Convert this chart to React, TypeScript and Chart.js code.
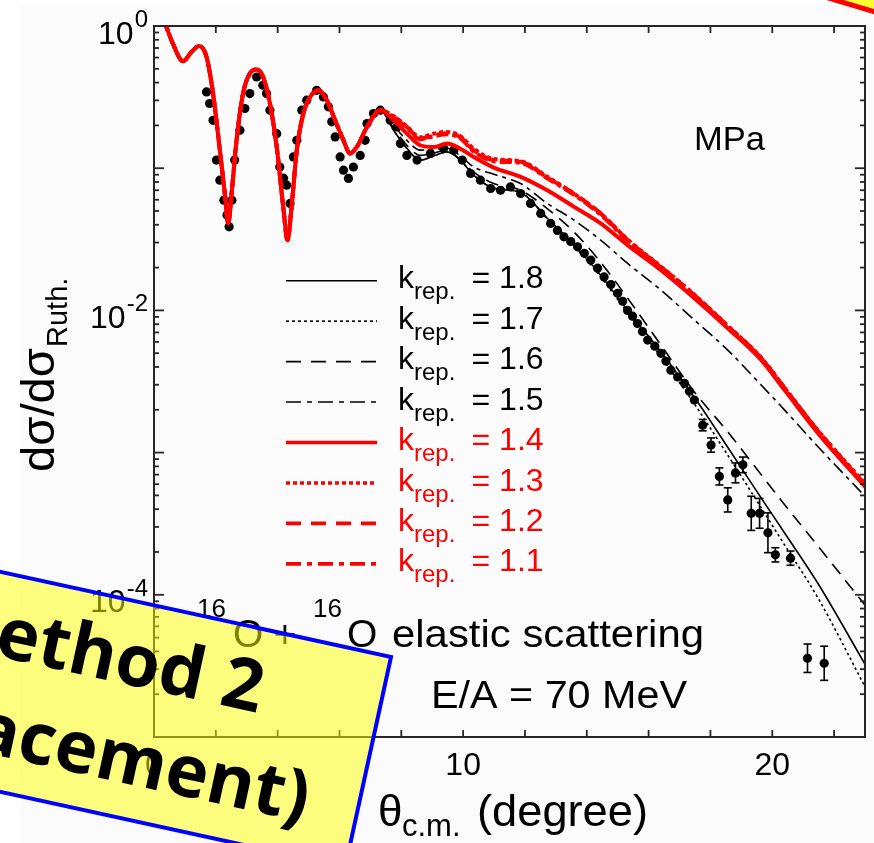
import React, { useEffect, useRef } from "react";
import { Chart, registerables } from "chart.js";

Chart.register(...registerables);

// ---------------- data ----------------
// forward-angle diffraction part, shared by all k_rep curves
const oscTheta = [0.3, 0.4, 0.61, 0.94, 1.21, 1.46, 1.7, 1.91, 2.13, 2.29, 2.4, 2.51, 2.67, 2.88, 3.1, 3.32, 3.53, 3.75, 3.97, 4.18, 4.32, 4.45, 4.62, 4.83, 5.05, 5.32, 5.59, 5.86, 6.13, 6.34, 6.56, 6.89, 7.32];
const oscRatio = [1.1, 0.984, 0.752, 0.565, 0.656, 0.723, 0.605, 0.335, 0.134, 0.0664, 0.0409, 0.0664, 0.157, 0.335, 0.463, 0.494, 0.438, 0.285, 0.141, 0.0535, 0.0312, 0.0535, 0.134, 0.242, 0.317, 0.353, 0.301, 0.217, 0.157, 0.127, 0.141, 0.195, 0.256];

// larger angles, where the k_rep curves separate
const tailTheta = [7.75, 8.18, 8.61, 9.05, 9.48, 9.91, 10.34, 10.99, 11.86, 12.72, 13.59, 14.45, 15.32, 16.4, 17.48, 18.56, 19.64, 20.4, 21.48, 23.05];
const k18Tail = [0.185, 0.138, 0.114, 0.122, 0.13, 0.114, 0.0893, 0.0724, 0.0676, 0.0445, 0.0288, 0.0177, 0.01, 0.0051, 0.00245, 0.00109, 4.8e-4, 2.72e-4, 1.2e-4, 3.11e-5];
const k17Tail = [0.185, 0.138, 0.114, 0.122, 0.13, 0.114, 0.0893, 0.0724, 0.0676, 0.044, 0.0284, 0.0172, 0.0096, 0.0047, 0.0022, 9.6e-4, 4.1e-4, 2.24e-4, 9.5e-5, 2.15e-5];
const k16Tail = [0.191, 0.145, 0.123, 0.128, 0.134, 0.114, 0.094, 0.078, 0.07, 0.052, 0.0355, 0.0218, 0.0122, 0.0057, 0.00267, 0.0014, 7.0e-4, 4.3e-4, 2.2e-4, 8.2e-5];
const k15Tail = [0.2, 0.157, 0.134, 0.136, 0.138, 0.122, 0.102, 0.0906, 0.078, 0.0565, 0.0431, 0.0312, 0.0214, 0.0139, 0.00855, 0.00526, 0.00299, 0.00199, 0.0011, 4.8e-4];
const k14Tail = [0.217, 0.175, 0.145, 0.141, 0.149, 0.137, 0.12, 0.101, 0.087, 0.07, 0.0535, 0.0409, 0.0288, 0.0192, 0.0122, 0.0075, 0.00448, 0.00275, 0.00137, 5.6e-4];
const k13Tail = [0.232, 0.197, 0.165, 0.175, 0.18, 0.168, 0.137, 0.116, 0.112, 0.087, 0.066, 0.048, 0.0315, 0.0203, 0.0129, 0.0078, 0.00465, 0.00285, 0.00143, 5.9e-4];
const k12Tail = [0.23, 0.195, 0.162, 0.17, 0.176, 0.165, 0.134, 0.114, 0.111, 0.086, 0.066, 0.048, 0.0312, 0.0202, 0.0128, 0.00776, 0.00462, 0.00284, 0.00142, 5.8e-4];
const k11Tail = [0.228, 0.192, 0.16, 0.168, 0.173, 0.162, 0.131, 0.112, 0.109, 0.085, 0.065, 0.047, 0.031, 0.02, 0.0127, 0.0077, 0.0046, 0.00282, 0.00141, 5.7e-4];

const kLabels = ["1.8", "1.7", "1.6", "1.5", "1.4", "1.3", "1.2", "1.1"];

// experimental points (theta, ratio, error half-width in decades)
const expTheta = [1.7, 1.8, 1.91, 2.02, 2.13, 2.26, 2.36, 2.43, 2.52, 2.61, 2.78, 2.94, 3.1, 3.32, 3.52, 3.64, 3.75, 3.97, 4.07, 4.19, 4.29, 4.4, 4.51, 4.62, 4.78, 4.94, 5.26, 5.48, 5.64, 5.75, 5.86, 6.02, 6.13, 6.29, 6.45, 6.67, 6.83, 6.89, 7.1, 7.32, 7.64, 7.86, 7.97, 8.18, 8.51, 8.94, 9.37, 9.7, 9.97, 10.24, 10.56, 10.89, 11.21, 11.53, 11.86, 12.18, 12.51, 12.83, 13.05, 13.26, 13.48, 13.7, 13.92, 14.13, 14.35, 14.56, 14.78, 15.0, 15.16, 15.32, 15.48, 15.64, 15.8, 15.97, 16.2, 16.4, 16.56, 16.72, 16.94, 17.16, 17.32, 17.48, 17.75, 18.02, 18.29, 18.56, 18.81, 19.05, 19.32, 19.59, 19.86, 20.1, 20.59, 21.14, 21.68];
const expRatio = [0.344, 0.285, 0.217, 0.114, 0.0824, 0.0596, 0.0468, 0.0387, 0.0596, 0.114, 0.185, 0.263, 0.335, 0.438, 0.383, 0.335, 0.256, 0.175, 0.102, 0.0851, 0.076, 0.0565, 0.12, 0.157, 0.256, 0.301, 0.353, 0.317, 0.27, 0.212, 0.166, 0.12, 0.0968, 0.0847, 0.102, 0.123, 0.157, 0.206, 0.242, 0.256, 0.217, 0.195, 0.149, 0.123, 0.114, 0.127, 0.138, 0.134, 0.114, 0.0918, 0.0824, 0.072, 0.07, 0.0739, 0.0664, 0.0565, 0.0481, 0.0409, 0.0365, 0.0329, 0.0305, 0.028, 0.0252, 0.0226, 0.0198, 0.0172, 0.0152, 0.0132, 0.0116, 0.01, 0.0091, 0.00809, 0.0071, 0.00618, 0.0056, 0.00499, 0.0044, 0.0038, 0.0034, 0.00307, 0.0027, 0.00234, 0.00156, 0.00113, 6.8e-4, 4.65e-4, 7.2e-4, 8.2e-4, 3.74e-4, 3.74e-4, 2.73e-4, 1.91e-4, 1.81e-4, 3.58e-5, 3.3e-5];
const expErrDec = [0, 0, 0, 0, 0, 0, 0, 0, 0, 0, 0, 0, 0, 0, 0, 0, 0, 0, 0, 0, 0, 0, 0, 0, 0, 0, 0, 0, 0, 0, 0, 0, 0, 0, 0, 0, 0, 0, 0, 0, 0, 0, 0, 0, 0, 0, 0, 0, 0, 0, 0, 0, 0, 0, 0, 0, 0, 0, 0, 0, 0, 0, 0, 0, 0, 0, 0, 0, 0, 0, 0, 0, 0, 0, 0, 0, 0, 0, 0, 0, 0, 0, 0.04, 0.05, 0.06, 0.085, 0.07, 0.055, 0.12, 0.105, 0.14, 0.05, 0.05, 0.1, 0.12];

const xTickValues = [0, 2, 4, 6, 8, 10, 12, 14, 16, 18, 20, 22];
const xTickLabelValues = [0, 10, 20];
const yDecades = [0, -1, -2, -3, -4, -5];
const yLabelDecades = [0, -2, -4];

// ---------------- styles ----------------
const FONT = '"Liberation Sans", Arial, Helvetica, sans-serif';
const RED = "#ff0000";
const INK = "#000000";
const AXIS = "#262626";

const curveTails = [k18Tail, k17Tail, k16Tail, k15Tail, k14Tail, k13Tail, k12Tail, k11Tail];
const curveStyle = [
  { color: INK, width: 1.6, dash: [] as number[], order: 5 },
  { color: INK, width: 1.6, dash: [2.5, 3], order: 6 },
  { color: INK, width: 1.6, dash: [13, 8], order: 7 },
  { color: INK, width: 1.6, dash: [13, 5, 4, 5], order: 8 },
  { color: RED, width: 4, dash: [] as number[], order: 0 },
  { color: RED, width: 4, dash: [4, 3], order: 1 },
  { color: RED, width: 4, dash: [12, 6], order: 2 },
  { color: RED, width: 4, dash: [12, 4, 4, 4], order: 3 },
];
const legendDash = [
  [],
  [3, 3],
  [15, 10],
  [15, 6, 5, 6],
  [],
  [4, 3],
  [15, 10],
  [15, 6, 5, 6],
];

function put(
  ctx: CanvasRenderingContext2D,
  s: string,
  x: number,
  y: number,
  size: number,
  color = INK,
  align: CanvasTextAlign = "left",
  fitWidth?: number
) {
  ctx.font = `${size}px ${FONT}`;
  ctx.fillStyle = color;
  ctx.textAlign = align;
  ctx.textBaseline = "alphabetic";
  const w = ctx.measureText(s).width;
  if (fitWidth) {
    ctx.save();
    ctx.translate(x, y);
    ctx.scale(fitWidth / w, 1);
    ctx.fillText(s, 0, 0);
    ctx.restore();
    return fitWidth;
  }
  ctx.fillText(s, x, y);
  return w;
}

function seg(ctx: CanvasRenderingContext2D, x1: number, y1: number, x2: number, y2: number) {
  ctx.beginPath();
  ctx.moveTo(x1, y1);
  ctx.lineTo(x2, y2);
  ctx.stroke();
}

const decor = {
  id: "decor",
  beforeDraw(chart: any) {
    const ctx = chart.ctx as CanvasRenderingContext2D;
    ctx.save();
    ctx.fillStyle = "#ffffff";
    ctx.fillRect(0, 0, chart.width, chart.height);
    ctx.fillStyle = "#fafbfa";
    ctx.fillRect(20, 5, chart.width - 20, chart.height - 5);
    ctx.restore();
  },
  afterDatasetsDraw(chart: any) {
    const ctx = chart.ctx as CanvasRenderingContext2D;
    const xs = chart.scales.x;
    const ys = chart.scales.y;
    const { left, right, top, bottom } = chart.chartArea;
    ctx.save();

    // error bars
    ctx.strokeStyle = INK;
    ctx.lineWidth = 1.6;
    ctx.setLineDash([]);
    expTheta.forEach((t, i) => {
      const e = expErrDec[i];
      if (!e) return;
      const px = xs.getPixelForValue(t);
      const yHi = ys.getPixelForValue(expRatio[i] * Math.pow(10, e));
      const yLo = ys.getPixelForValue(expRatio[i] / Math.pow(10, e));
      seg(ctx, px, yHi, px, yLo);
      seg(ctx, px - 4, yHi, px + 4, yHi);
      seg(ctx, px - 4, yLo, px + 4, yLo);
    });

    // ticks
    ctx.strokeStyle = AXIS;
    ctx.lineWidth = 1.8;
    xTickValues.forEach((v) => {
      const px = xs.getPixelForValue(v);
      seg(ctx, px, bottom, px, bottom - 7);
      seg(ctx, px, top, px, top + 7);
    });
    yDecades.forEach((d) => {
      const py = ys.getPixelForValue(Math.pow(10, d));
      seg(ctx, left, py, left + 10, py);
      seg(ctx, right, py, right - 10, py);
      if (d < 0) {
        for (let m = 2; m <= 9; m++) {
          const pm = ys.getPixelForValue(m * Math.pow(10, d));
          seg(ctx, left, pm, left + 5, pm);
          seg(ctx, right, pm, right - 5, pm);
        }
      }
    });
    ctx.lineWidth = 2;
    ctx.strokeRect(left, top, right - left, bottom - top);

    // tick labels
    xTickLabelValues.forEach((v) => {
      put(ctx, String(v), xs.getPixelForValue(v), 775, 32, INK, "center");
    });
    yLabelDecades.forEach((d) => {
      const py = ys.getPixelForValue(Math.pow(10, d));
      const sw = put(ctx, String(d), 148, py + 1, 24, INK, "right");
      put(ctx, "10", 148 - sw - 1, py + 17.5, 32, INK, "right");
    });

    // axis titles
    ctx.save();
    ctx.translate(54, 472);
    ctx.rotate(-Math.PI / 2);
    const tw = put(ctx, "dσ/dσ", 0, 0, 46, INK, "left", 124);
    put(ctx, "Ruth.", tw + 1, 13, 29, INK, "left");
    ctx.restore();
    put(ctx, "θ", 378, 826, 44);
    put(ctx, "c.m.", 402, 836, 31);
    put(ctx, "(degree)", 477, 826, 44, INK, "left", 171);

    // legend
    kLabels.forEach((lab, i) => {
      const y = 280.7 + i * 40.45;
      const st = curveStyle[i];
      const col = st.color;
      ctx.strokeStyle = col;
      ctx.lineWidth = st.color === RED ? 3.6 : 1.6;
      ctx.setLineDash(legendDash[i]);
      seg(ctx, 286, y, 377, y);
      ctx.setLineDash([]);
      const kw = put(ctx, "k", 398, y + 7.6, 32, col);
      put(ctx, "rep.", 398 + kw, y + 18.6, 24, col);
      put(ctx, "= " + lab, 471.5, y + 7.6, 32, col);
    });

    // annotations
    put(ctx, "MPa", 694, 150, 34, INK, "left", 71);
    put(ctx, "16", 197, 617, 26);
    put(ctx, "O", 233, 646.7, 39);
    put(ctx, "+", 285, 646.7, 39, INK, "center");
    put(ctx, "16", 313, 617, 26);
    put(ctx, "O", 347, 646.7, 39);
    put(ctx, "elastic scattering", 392, 646.7, 39, INK, "left", 312);
    put(ctx, "E/A = 70 MeV", 431, 708, 39, INK, "left", 256);

    ctx.restore();
  },
};

export default function App() {
  const ref = useRef<HTMLCanvasElement | null>(null);

  useEffect(() => {
    if (!ref.current) return;
    const datasets: any[] = kLabels.map((lab, i) => {
      const st = curveStyle[i];
      const pts = oscTheta
        .map((t, j) => ({ x: t, y: oscRatio[j] }))
        .concat(tailTheta.map((t, j) => ({ x: t, y: curveTails[i][j] })));
      return {
        label: "k_rep. = " + lab,
        data: pts,
        borderColor: st.color,
        backgroundColor: st.color,
        borderWidth: st.width,
        borderDash: st.dash,
        pointRadius: 0,
        fill: false,
        cubicInterpolationMode: "monotone",
        order: st.order,
      };
    });
    datasets.push({
      label: "data",
      data: expTheta.map((t, j) => ({ x: t, y: expRatio[j] })),
      showLine: false,
      pointRadius: 4.6,
      pointBorderWidth: 0,
      pointBackgroundColor: INK,
      borderColor: INK,
      order: 4,
    });

    const chart = new Chart(ref.current, {
      type: "line",
      data: { datasets },
      options: {
        animation: false,
        responsive: false,
        devicePixelRatio: 1,
        layout: { padding: { top: 26, right: 9, left: 0, bottom: 0 } },
        plugins: { legend: { display: false }, tooltip: { enabled: false } },
        scales: {
          x: {
            type: "linear",
            min: 0,
            max: 23,
            grid: { display: false },
            border: { display: false },
            ticks: { display: false },
            afterFit: (s: any) => {
              s.height = 106;
            },
          },
          y: {
            type: "logarithmic",
            min: 1e-5,
            max: 1,
            grid: { display: false },
            border: { display: false },
            ticks: { display: false },
            afterFit: (s: any) => {
              s.width = 154;
            },
          },
        },
      } as any,
      plugins: [decor],
    });
    return () => chart.destroy();
  }, []);

  return (
    <div style={{ position: "absolute", left: 0, top: 0, width: 874, height: 843, overflow: "hidden" }}>
      <canvas ref={ref} width={874} height={843} style={{ display: "block" }} />
      <svg
        width={874}
        height={843}
        style={{ position: "absolute", left: 0, top: 0, pointerEvents: "none" }}
      >
        <g transform="translate(835,0) rotate(16.7)">
          <rect x={-120} y={-300} width={400} height={300} fill="#ffff33" stroke="#ff0000" strokeWidth={5} />
        </g>
        <g transform="translate(391,657) rotate(12.3)">
          <rect x={-900} y={0} width={900} height={215} fill="rgba(255,255,0,0.5)" stroke="#0000ff" strokeWidth={4} />
          <text
            x={-118}
            y={83}
            textAnchor="end"
            fontFamily='"Open Sans", sans-serif'
            fontWeight={700}
            fontSize={72}
            fill="#000"
          >
            Method 2
          </text>
          <text
            x={-50}
            y={180}
            textAnchor="end"
            fontFamily='"Open Sans", sans-serif'
            fontWeight={700}
            fontSize={72}
            fill="#000"
          >
            (displacement)
          </text>
        </g>
      </svg>
    </div>
  );
}
